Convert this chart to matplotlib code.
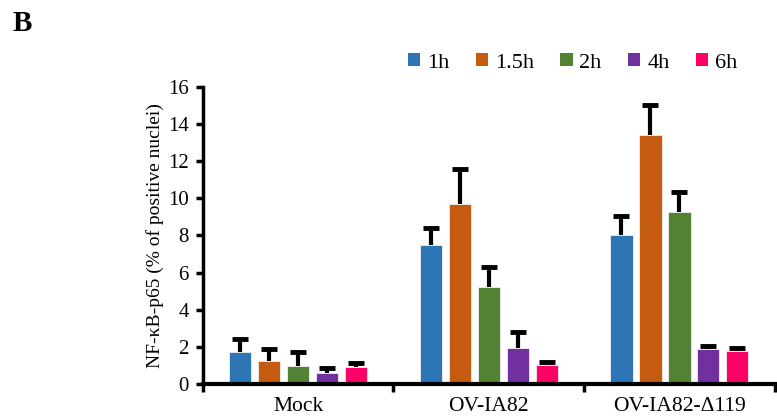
import numpy as np
import matplotlib
matplotlib.use("Agg")
import matplotlib.pyplot as plt
from matplotlib.patches import Patch

plt.rcParams['font.family'] = ['Liberation Serif', 'DejaVu Serif']

groups = ["Mock", "OV-IA82", "OV-IA82-\u0394119"]
times = ["1h", "1.5h", "2h", "4h", "6h"]
colors = ["#2E75B6", "#C55A11", "#548235", "#7030A0", "#FF0066"]

# rows: time point, columns: group
means = [
    [1.75, 7.47, 8.03],
    [1.22, 9.70, 13.42],
    [0.99, 5.22, 9.28],
    [0.59, 1.96, 1.87],
    [0.94, 1.03, 1.77],
]
errs = [
    [0.66, 0.93, 1.03],
    [0.66, 1.90, 1.62],
    [0.75, 1.06, 1.04],
    [0.28, 0.86, 0.17],
    [0.18, 0.17, 0.16],
]

fig = plt.figure(figsize=(7.77, 4.19), dpi=100)
ax = fig.add_axes([0.261, 0.0835, 0.736, 0.709])

x = np.arange(len(groups))
step = 0.152
width = 0.117
for i, t in enumerate(times):
    pos = x + (i - 2) * step
    m = np.array(means[i])
    e = np.array(errs[i])
    ax.bar(pos, m, width, color=colors[i], edgecolor="#f0f0f0",
           linewidth=0.6, zorder=2)
    ax.vlines(pos, m, m + e, color="black", linewidth=3, zorder=1)
    # cap on top only
    ax.plot(pos, m + e, linestyle="none", marker="_", markersize=11,
            markeredgewidth=3.5, color="black", zorder=1)

ax.set_ylim(0, 16)
ax.set_yticks(range(0, 17, 2))
ax.set_xlim(-0.5, 2.44)
ax.set_xticks(x)
ax.set_xticklabels(groups, fontsize=15.5)
ax.set_xticks([-0.5, 0.5, 1.5, 2.5], minor=True)
ax.tick_params(axis="x", which="major", length=0, pad=9)
ax.tick_params(axis="x", which="minor", length=6, width=2.5, direction="out")
ax.tick_params(axis="y", labelsize=15, length=5, width=2.5, direction="out", pad=5)
for s in ["top", "right"]:
    ax.spines[s].set_visible(False)
ax.spines["left"].set_linewidth(2.5)
ax.spines["bottom"].set_linewidth(3)
ax.set_ylabel("NF-\u03baB-p65 (% of positive nuclei)", fontsize=14, labelpad=3)

handles = [Patch(facecolor=c, edgecolor="none") for c in colors]
fig.legend(handles, times, loc="center", bbox_to_anchor=(0.737, 0.850), ncol=5,
           frameon=False, fontsize=16, handlelength=0.55, handleheight=0.55,
           handletextpad=0.3, columnspacing=1.2)

fig.text(0.016, 0.945, "B", fontsize=21, fontweight="bold", va="center")

fig.savefig("out.png", dpi=100)
